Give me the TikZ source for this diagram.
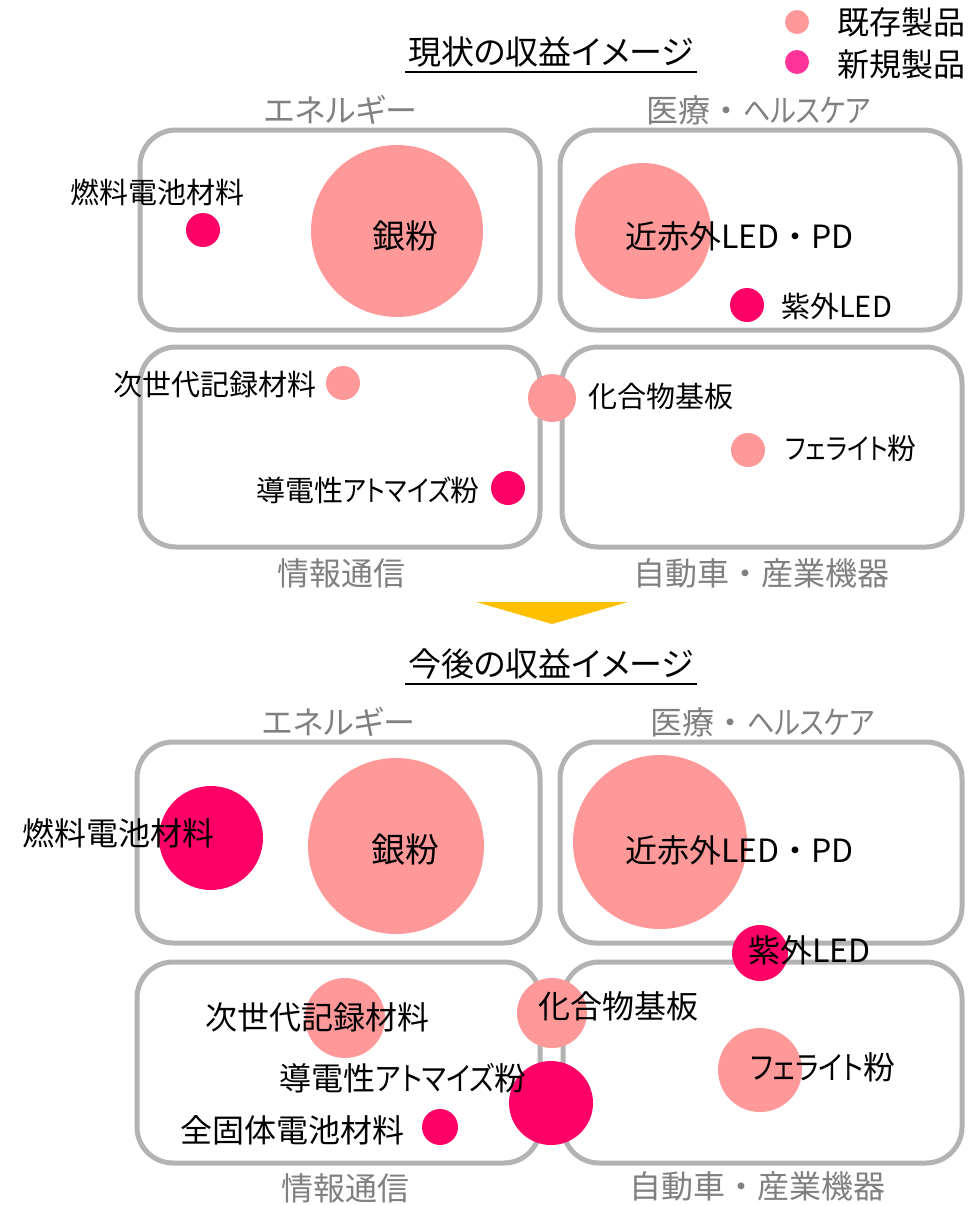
\documentclass[tikz,border=0pt]{standalone}
\usepackage{fontspec}
\setmainfont[RawFeature=+palt]{Noto Sans CJK JP}
\newfontfamily\nopalt{Noto Sans CJK JP}
\newfontfamily\kanaf[RawFeature=+palt,FakeStretch=0.85]{Noto Sans CJK JP}
\definecolor{exist}{HTML}{FF9999}
\definecolor{newc}{HTML}{FF0066}
\definecolor{legnew}{HTML}{FF3399}
\definecolor{boxgray}{HTML}{B3B3B3}
\definecolor{catgray}{HTML}{808080}
\definecolor{arrowy}{HTML}{FFC000}
\newcommand{\dotc}{{\nopalt ・}}
\newcommand{\kn}[1]{{\kanaf #1}}
\begin{document}
\begin{tikzpicture}[x=1pt,y=-1pt,
  box/.style={draw=boxgray, line width=5pt, rounded corners=36pt},
  ex/.style={circle, fill=exist, draw=none, inner sep=0pt, minimum size=#1},
  nw/.style={circle, fill=newc, draw=none, inner sep=0pt, minimum size=#1},
  sm/.style={inner sep=0pt, font=\fontsize{29}{34}\selectfont},
  lg/.style={inner sep=0pt, font=\fontsize{32}{38}\selectfont},
  cat/.style={inner sep=0pt, text=catgray, font=\fontsize{32}{38}\selectfont},
  ttl/.style={inner sep=0pt, font=\fontsize{33}{39}\selectfont}
]
\useasboundingbox (0,0) rectangle (978,1205);
\fill[white] (0,0) rectangle (978,1205);

% legend
\node[circle, fill=exist, inner sep=0pt, minimum size=24pt] (legA) at (797,22) {};
\node[circle, fill=legnew, inner sep=0pt, minimum size=24pt] (legB) at (797,62) {};
\node[lg, anchor=west] (legAt) at (837,22) {既存製品};
\node[lg, anchor=west] (legBt) at (837,64) {新規製品};

% titles
\node[ttl] (t1) at (551,52) {現状の収益イメージ};
\draw[line width=2pt] (405,72) -- (697,72);
\node[ttl] (t2) at (551,664) {今後の収益イメージ};
\draw[line width=2pt] (405,684) -- (697,684);

% arrow
\fill[arrowy] (476,602) -- (628,602) -- (552,624) -- cycle;

% ===== top =====
\draw[box] (140,130) rectangle (540,330);
\draw[box] (560,130) rectangle (960,330);
\draw[box] (140,347) rectangle (540,547);
\draw[box] (562,347) rectangle (962,547);

\node[cat] (cA1) at (341,110) {エネルギー};
\node[cat] (cB1) at (759,110) {医療\dotc\kn{ヘルスケア}};
\node[cat] (cC1) at (341,573) {情報通信};
\node[cat] (cD1) at (761,573) {自動車\dotc 産業機器};

\node[nw=34pt] (p1) at (203,230) {};
\node[ex=172pt] (p2) at (397,231) {};
\node[ex=136pt] (p3) at (643,231) {};
\node[nw=34pt] (p4) at (747,305) {};
\node[ex=34pt] (p5) at (343,383) {};
\node[ex=48pt] (p6) at (552,398) {};
\node[ex=34pt] (p7) at (748,450) {};
\node[nw=34pt] (p8) at (508,488) {};

\node[sm] (l1) at (157,192) {燃料電池材料};
\node[inner sep=0pt, font=\fontsize{33}{38}\selectfont] (l2) at (405,236) {銀粉};
\node[inner sep=0pt, anchor=west, font=\fontsize{32}{38}\selectfont] (l3) at (625,236) {近赤外LED\dotc PD};
\node[sm, anchor=west] (l4) at (781,306) {紫外LED};
\node[sm, anchor=west] (l5) at (113,385) {次世代記録材料};
\node[sm, anchor=west] (l6) at (588,396) {化合物基板};
\node[sm, anchor=west] (l7) at (785,448) {\kn{フェライト}粉};
\node[sm, anchor=east] (l8) at (480,490) {導電性\kn{アトマイズ}粉};

% ===== bottom =====
\draw[box] (137,742) rectangle (540,943);
\draw[box] (560,742) rectangle (962,943);
\draw[box] (137,962) rectangle (540,1163);
\draw[box] (563,962) rectangle (962,1163);

\node[cat] (cA2) at (339,722) {エネルギー};
\node[cat] (cB2) at (763,722) {医療\dotc\kn{ヘルスケア}};
\node[cat] (cC2) at (345,1188) {情報通信};
\node[cat] (cD2) at (757,1186) {自動車\dotc 産業機器};

\node[nw=104pt] (q1) at (211,838) {};
\node[ex=176pt] (q2) at (396,846) {};
\node[ex=174pt] (q3) at (660,842) {};
\node[nw=56pt] (q4) at (760,953) {};
\node[ex=80pt] (q5) at (345,1018) {};
\node[ex=70pt] (q6) at (552,1013) {};
\node[ex=84pt] (q7) at (760,1070) {};
\node[nw=84pt] (q8) at (551,1103) {};
\node[nw=36pt] (q9) at (440,1127) {};

\node[lg, anchor=west] (m1) at (22,833) {燃料電池材料};
\node[inner sep=0pt, font=\fontsize{34}{40}\selectfont] (m2) at (405,850) {銀粉};
\node[inner sep=0pt, anchor=west, font=\fontsize{32}{38}\selectfont] (m3) at (625,850) {近赤外LED\dotc PD};
\node[lg, anchor=west] (m4) at (748,950) {紫外LED};
\node[lg, anchor=west] (m5) at (205,1017) {次世代記録材料};
\node[lg, anchor=west] (m6) at (538,1006) {化合物基板};
\node[lg, anchor=west] (m7) at (750,1067) {\kn{フェライト}粉};
\node[lg, anchor=east] (m8) at (527,1078) {導電性\kn{アトマイズ}粉};
\node[lg, anchor=west] (m9) at (180,1130) {全固体電池材料};
\end{tikzpicture}
\end{document}
